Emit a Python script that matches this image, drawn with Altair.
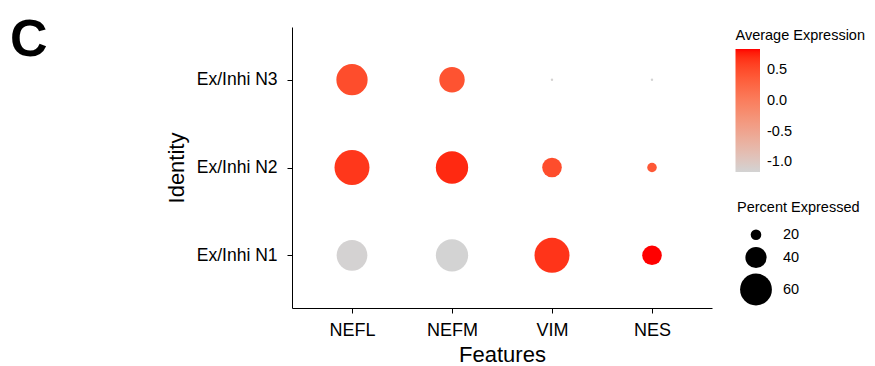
import altair as alt
import pandas as pd

# Dot plot of scaled average expression and percent of cells expressing
features = ["NEFL", "NEFM", "VIM", "NES"]
identities = ["Ex/Inhi N1", "Ex/Inhi N2", "Ex/Inhi N3"]

# scaled average expression, in feature order
avg_n1 = [-1.15, -1.16, 0.68, 0.85]
avg_n2 = [0.66, 0.74, 0.50, 0.40]
avg_n3 = [0.50, 0.45, -1.14, -1.16]

# percent of cells expressing, in feature order
pct_n1 = [58, 61, 66, 37]
pct_n2 = [66, 61, 37, 18]
pct_n3 = [59, 48, 4.5, 4.5]

rows = []
for ident, avgs, pcts in zip(identities, [avg_n1, avg_n2, avg_n3], [pct_n1, pct_n2, pct_n3]):
    for feat, a, p in zip(features, avgs, pcts):
        rows.append({"feature": feat, "identity": ident, "avg": a, "pct": p})
df = pd.DataFrame(rows)

all_avg = avg_n1 + avg_n2 + avg_n3
color_domain = [min(all_avg), max(all_avg)]

FONT = "Liberation Sans"
minus_fix = "datum.value < 0 ? '-' + format(-datum.value, '.1f') : format(datum.value, '.1f')"

dots = alt.Chart(df).mark_circle(opacity=1, strokeWidth=0).encode(
    x=alt.X(
        "feature:N",
        sort=features,
        scale=alt.Scale(type="point", padding=0.6),
        axis=alt.Axis(title="Features", labelAngle=0, labelFontSize=18,
                      labelPadding=8, titleFontSize=22, titlePadding=5),
    ),
    y=alt.Y(
        "identity:N",
        sort=identities[::-1],
        scale=alt.Scale(type="point", padding=0.6),
        axis=alt.Axis(title="Identity", labelFontSize=17.5, labelPadding=10,
                      titleFontSize=22, titlePadding=8),
    ),
    color=alt.Color(
        "avg:Q",
        scale=alt.Scale(domain=color_domain, range=["#D3D3D3", "#FF0000"],
                        interpolate="hcl"),
        legend=alt.Legend(
            title="Average Expression", orient="none", legendX=443.5, legendY=1.5,
            direction="vertical", gradientLength=123, gradientThickness=24.5,
            gradientStrokeWidth=0, values=[-1.0, -0.5, 0.0, 0.5],
            labelExpr=minus_fix, labelOffset=7, titlePadding=6,
        ),
    ),
    size=alt.Size(
        "pct:Q",
        scale=alt.Scale(type="pow", exponent=2, domain=[0, 66], range=[0, 1224]),
        legend=alt.Legend(
            title="Percent Expressed", orient="none", legendX=445, legendY=174,
            values=[20, 40, 60], symbolFillColor="black", symbolStrokeWidth=0,
            symbolOpacity=1, labelOffset=11, rowPadding=5, symbolOffset=3,
            titlePadding=12,
        ),
    ),
)

panel = alt.Chart(pd.DataFrame({"panel": ["C"]})).mark_text(
    font=FONT, fontSize=52, fontWeight="bold", align="left", baseline="alphabetic",
    color="black",
).encode(text="panel:N", x=alt.value(-282), y=alt.value(29))

chart = alt.layer(dots, panel).properties(
    width=420,
    height=281,
    autosize=alt.AutoSizeParams(type="none"),
    padding={"left": 292, "top": 27, "right": 163, "bottom": 58},
).configure(font=FONT).configure_view(strokeWidth=0).configure_axis(
    grid=False, domainColor="black", domainWidth=1, tickColor="black", tickSize=5,
    labelColor="black", titleColor="black", titleFontWeight="normal", labelFont=FONT,
    titleFont=FONT,
).configure_legend(
    padding=0, titleFontSize=14.5, labelFontSize=14.5, titleFontWeight="normal",
    titleColor="black", labelColor="black", labelFont=FONT, titleFont=FONT,
)

chart.save("out.html", embed_options={"renderer": "svg", "actions": False})
